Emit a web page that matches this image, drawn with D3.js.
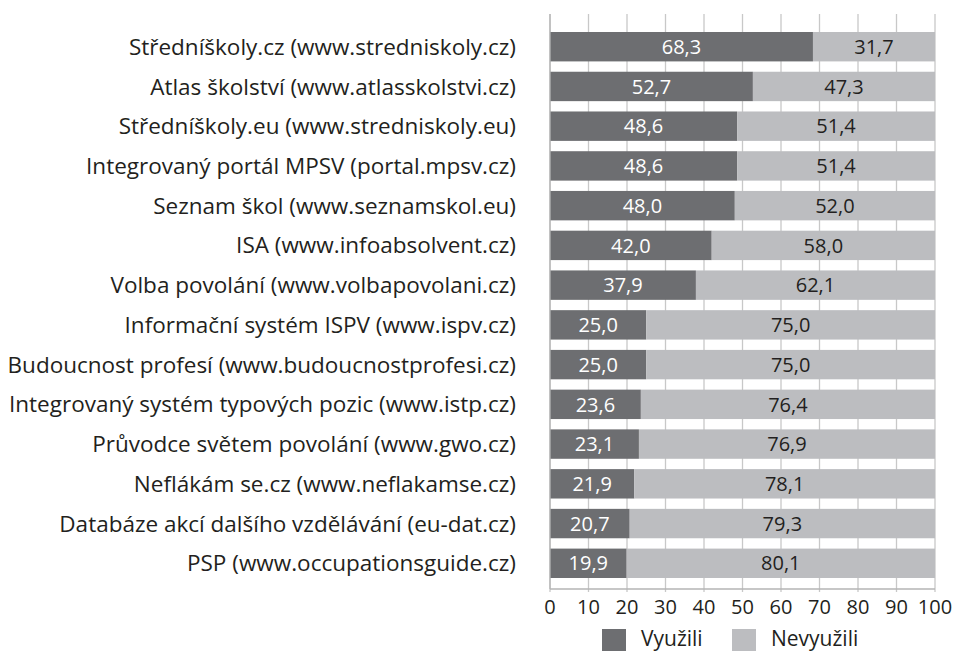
<html>
<head>
<style>
  body { margin: 0; background: #fff; }
  svg text { font-family: "Open Sans", Lato, sans-serif; fill: #231f20; }
</style>
</head>
<body>
<svg id="chart" width="954" height="651"></svg>
<script src="https://cdn.jsdelivr.net/npm/d3@7"></script>
<script>
// data
const categories = [
  "Středníškoly.cz (www.stredniskoly.cz)",
  "Atlas školství (www.atlasskolstvi.cz)",
  "Středníškoly.eu (www.stredniskoly.eu)",
  "Integrovaný portál MPSV (portal.mpsv.cz)",
  "Seznam škol (www.seznamskol.eu)",
  "ISA (www.infoabsolvent.cz)",
  "Volba povolání (www.volbapovolani.cz)",
  "Informační systém ISPV (www.ispv.cz)",
  "Budoucnost profesí (www.budoucnostprofesi.cz)",
  "Integrovaný systém typových pozic (www.istp.cz)",
  "Průvodce světem povolání (www.gwo.cz)",
  "Neflákám se.cz (www.neflakamse.cz)",
  "Databáze akcí dalšího vzdělávání (eu-dat.cz)",
  "PSP (www.occupationsguide.cz)"
];
const vyuzili   = [68.3, 52.7, 48.6, 48.6, 48.0, 42.0, 37.9, 25.0, 25.0, 23.6, 23.1, 21.9, 20.7, 19.9];
const nevyuzili = [31.7, 47.3, 51.4, 51.4, 52.0, 58.0, 62.1, 75.0, 75.0, 76.4, 76.9, 78.1, 79.3, 80.1];
const xTicks = [0, 10, 20, 30, 40, 50, 60, 70, 80, 90, 100];
const seriesNames = ["Využili", "Nevyužili"];
const colors = ["#6d6e71", "#bcbdc0"];

const svg = d3.select("#chart");
const left = 550, right = 935, gridTop = 14, axisY = 589;

const x = d3.scaleLinear().domain([0, 100]).range([left, right]);
const y = d3.scaleBand().domain(categories).range([32, 578]).paddingInner(0.26);

const fmt = v => v.toFixed(1).replace(".", ",");

// gridlines
svg.append("g")
  .selectAll("line")
  .data(xTicks)
  .join("line")
  .attr("x1", d => x(d)).attr("x2", d => x(d))
  .attr("y1", gridTop).attr("y2", axisY + 3)
  .attr("stroke", "#c8c8c8").attr("stroke-width", 1.3);

// bars
const rows = categories.map((c, i) => ({ c, a: vyuzili[i], b: nevyuzili[i] }));
const g = svg.append("g");
rows.forEach(r => {
  const segs = [
    { x0: 0, x1: r.a, v: r.a, col: colors[0], txt: "#fff" },
    { x0: r.a, x1: r.a + r.b, v: r.b, col: colors[1], txt: "#231f20" }
  ];
  segs.forEach(s => {
    g.append("rect")
      .attr("x", x(s.x0)).attr("y", y(r.c))
      .attr("width", x(s.x1) - x(s.x0)).attr("height", y.bandwidth())
      .attr("fill", s.col);
    g.append("text")
      .attr("x", (x(s.x0) + x(s.x1)) / 2)
      .attr("y", y(r.c) + y.bandwidth() / 2)
      .attr("dy", "0.36em")
      .attr("text-anchor", "middle")
      .style("font-size", "20px")
      .style("fill", s.txt)
      .text(fmt(s.v));
  });
});

// left axis line and bottom axis
svg.append("line")
  .attr("x1", left).attr("x2", left).attr("y1", gridTop).attr("y2", axisY)
  .attr("stroke", "#b5b5b5").attr("stroke-width", 1.3);
svg.append("line")
  .attr("x1", left).attr("x2", right).attr("y1", axisY).attr("y2", axisY)
  .attr("stroke", "#b5b5b5").attr("stroke-width", 1.3);

svg.append("g")
  .selectAll("text")
  .data(xTicks)
  .join("text")
  .attr("x", d => x(d)).attr("y", 607).attr("dy", "0.36em")
  .attr("text-anchor", "middle")
  .style("font-size", "20px")
  .text(d => d);

// category labels
svg.append("g")
  .selectAll("text")
  .data(categories)
  .join("text")
  .attr("x", 516).attr("y", d => y(d) + y.bandwidth() / 2).attr("dy", "0.36em")
  .attr("text-anchor", "end")
  .style("font-size", "22.5px")
  .text(d => d);

// legend
const legX = [602, 732];
seriesNames.forEach((n, i) => {
  svg.append("rect").attr("x", legX[i]).attr("y", 629).attr("width", 24).attr("height", 24).attr("fill", colors[i]);
  svg.append("text").attr("x", legX[i] + 39).attr("y", 638).attr("dy", "0.36em")
    .style("font-size", "21px").text(n);
});
</script>
</body>
</html>
